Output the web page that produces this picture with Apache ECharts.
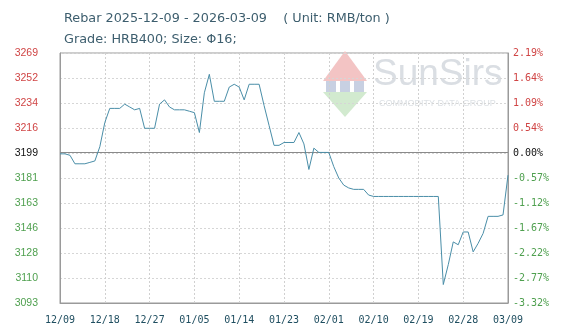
<!DOCTYPE html>
<html>
<head>
<meta charset="utf-8">
<script src="https://cdn.jsdelivr.net/npm/echarts@6/dist/echarts.min.js"></script>
<style>
html,body{margin:0;padding:0;background:#fff;}
#c{width:570px;height:336px;}
</style>
</head>
<body>
<div id="c"></div>
<script>
// ---- data ----
const titleLine1 = 'Rebar 2025-12-09 - 2026-03-09    ( Unit: RMB/ton )';
const titleLine2 = 'Grade: HRB400; Size: \u03A616;';
const startDate = '2025-12-09';
const dayCount = 91;
const prices = [
  3198, 3198, 3197, 3191, 3191, 3191, 3192, 3193, 3203, 3220,
  3230, 3230, 3230, 3233, 3231, 3229, 3230, 3216, 3216, 3216,
  3233, 3236, 3231, 3229, 3229, 3229, 3228, 3227, 3213, 3241,
  3254, 3235, 3235, 3235, 3245, 3247, 3245, 3236, 3247, 3247,
  3247, 3232, 3218, 3204, 3204, 3206, 3206, 3206, 3213, 3205,
  3187, 3202, 3199, 3199, 3199, 3189, 3181, 3176, 3174, 3173,
  3173, 3173, 3169, 3168, 3168, 3168, 3168, 3168, 3168, 3168,
  3168, 3168, 3168, 3168, 3168, 3168, 3168, 3106, 3120, 3136,
  3134, 3143, 3143, 3129, 3135, 3142, 3154, 3154, 3154, 3155,
  3183
];
const basePrice = 3199;
const yMin = 3093;
const yMax = 3269;
const leftTickLabels = ['3093','3110','3128','3146','3163','3181','3199','3216','3234','3252','3269'];
const rightTickLabels = ['-3.32%','-2.77%','-2.22%','-1.67%','-1.12%','-0.57%','0.00%','0.54%','1.09%','1.64%','2.19%'];

// ---- categories (dates) ----
function buildDates(start, n) {
  const out = [];
  const d = new Date(start + 'T00:00:00Z');
  for (let i = 0; i < n; i++) {
    const t = new Date(d.getTime() + i * 86400000);
    const mm = String(t.getUTCMonth() + 1).padStart(2, '0');
    const dd = String(t.getUTCDate()).padStart(2, '0');
    out.push(mm + '/' + dd);
  }
  return out;
}
const dates = buildDates(startDate, dayCount);

const step = (yMax - yMin) / (leftTickLabels.length - 1);
const baseIdx = leftTickLabels.indexOf(String(basePrice));
function tickIndex(v) { return Math.round((v - yMin) / step); }
function tickColor(v) {
  const i = tickIndex(v);
  if (i > baseIdx) return '#d04545';
  if (i < baseIdx) return '#4fa04f';
  return '#111111';
}

const titleStyle = {fontFamily: 'DejaVu Sans', fontSize: 12.8, fontWeight: 'normal', color: '#3d5e6e'};
const chart = echarts.init(document.getElementById('c'), null, {renderer: 'canvas'});
chart.setOption({
  animation: false,
  backgroundColor: '#ffffff',
  title: [
    {text: titleLine1, left: 59, top: 7, textStyle: titleStyle},
    {text: titleLine2, left: 59, top: 28, textStyle: titleStyle}
  ],
  graphic: [
    {type: 'group', left: 323, top: 51, z: 0, silent: true, children: [
      {type: 'polygon', shape: {points: [[22,0],[44,30],[0,30]]}, style: {fill: '#f3c4c4'}},
      {type: 'polygon', shape: {points: [[0,41],[44,41],[22,66]]}, style: {fill: '#d2eacf'}},
      {type: 'rect', shape: {x: 3, y: 30, width: 10, height: 11}, style: {fill: '#c8d0e2'}},
      {type: 'rect', shape: {x: 17, y: 30, width: 10, height: 11}, style: {fill: '#c8d0e2'}},
      {type: 'rect', shape: {x: 31, y: 30, width: 10, height: 11}, style: {fill: '#c8d0e2'}},
      {type: 'text', x: 50, y: 5, style: {text: 'SunSirs', font: '37px "Liberation Sans"', fill: '#dadee3'}},
      {type: 'text', x: 56, y: 48, style: {text: 'COMMODITY DATA GROUP', font: '9px "Liberation Sans"', fill: '#dde1e5'}}
    ]}
  ],
  grid: {left: 60, right: 62, top: 53, bottom: 33, show: true, borderColor: '#9a9a9a', borderWidth: 1, containLabel: false},
  xAxis: {
    type: 'category',
    data: dates,
    boundaryGap: false,
    axisLine: {show: true, lineStyle: {color: '#9a9a9a'}},
    axisTick: {show: false},
    axisLabel: {interval: 8, margin: 12, fontFamily: 'DejaVu Sans Mono', fontSize: 10, color: '#1f4e60'},
    splitLine: {show: true, interval: 8, lineStyle: {color: '#d0d0d0', type: [2, 2]}}
  },
  yAxis: [
    {
      type: 'value', position: 'left', min: yMin, max: yMax, interval: step,
      axisLine: {show: true, lineStyle: {color: '#9a9a9a'}},
      axisTick: {show: false},
      axisLabel: {margin: 22, fontFamily: 'Liberation Sans', fontSize: 10.5,
        formatter: v => leftTickLabels[tickIndex(v)], color: v => tickColor(v)},
      splitLine: {show: true, lineStyle: {color: '#d6d6d6', type: [2, 2]}}
    },
    {
      type: 'value', position: 'right', min: yMin, max: yMax, interval: step,
      axisLine: {show: true, lineStyle: {color: '#9a9a9a'}},
      axisTick: {show: false},
      axisLabel: {margin: 5, fontFamily: 'DejaVu Sans Mono', fontSize: 10,
        formatter: v => rightTickLabels[tickIndex(v)], color: v => tickColor(v)},
      splitLine: {show: false}
    }
  ],
  series: [{
    type: 'line',
    data: prices,
    yAxisIndex: 0,
    symbol: 'none',
    z: 5,
    lineStyle: {color: '#4a8ea8', width: 1},
    markLine: {
      silent: true, symbol: 'none', label: {show: false},
      lineStyle: {color: '#8a8a8a', type: 'solid', width: 1},
      data: [{yAxis: basePrice}]
    }
  }]
});
</script>
</body>
</html>
